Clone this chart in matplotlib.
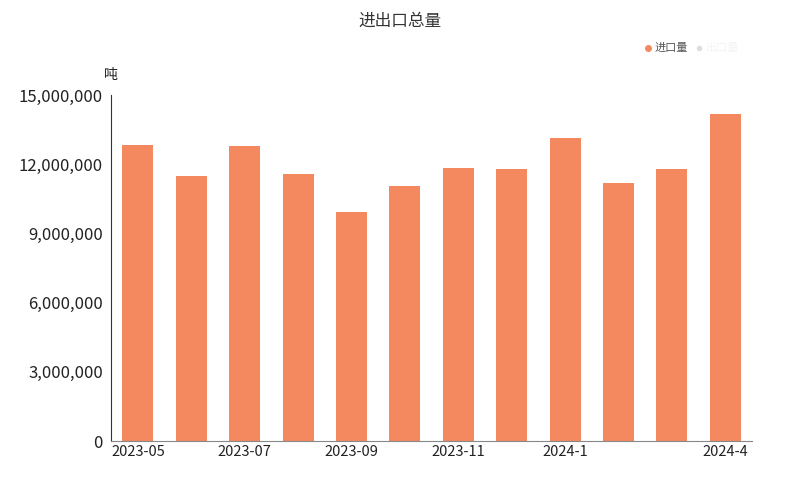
import matplotlib
matplotlib.use("Agg")
import matplotlib.pyplot as plt
from matplotlib.ticker import FuncFormatter

plt.rcParams['font.family'] = ['Noto Sans CJK SC', 'DejaVu Sans']

categories = ["2023-05", "2023-06", "2023-07", "2023-08", "2023-09", "2023-10",
              "2023-11", "2023-12", "2024-1", "2024-2", "2024-3", "2024-4"]
imports = [12830000, 11490000, 12790000, 11570000, 9930000, 11050000,
           11830000, 11790000, 13130000, 11180000, 11790000, 14170000]
tick_labels = {0: "2023-05", 2: "2023-07", 4: "2023-09", 6: "2023-11", 8: "2024-1", 11: "2024-4"}

fig = plt.figure(figsize=(8, 4.79), dpi=100)
ax = fig.add_axes([0.139, 0.0793, 0.801, 0.7224])

x = list(range(len(categories)))
ax.bar(x, imports, width=0.58, color="#F4895F")
ax.set_xlim(-0.5, len(categories) - 0.5)
ax.set_ylim(0, 15000000)
ax.set_yticks([0, 3000000, 6000000, 9000000, 12000000, 15000000])
ax.yaxis.set_major_formatter(FuncFormatter(lambda v, p: f"{int(v):,}"))
ax.set_xticks(list(tick_labels.keys()))
ax.set_xticklabels(list(tick_labels.values()))
ax.tick_params(axis='y', length=0, labelsize=12, pad=6, labelcolor="#222222")
ax.tick_params(axis='x', length=0, labelsize=10.5, pad=3, labelcolor="#222222")

for s in ["top", "right"]:
    ax.spines[s].set_visible(False)
ax.spines["left"].set_color("#333333")
ax.spines["bottom"].set_color("#888888")

fig.text(0.5, 0.955, "进出口总量", ha="center", va="center", fontsize=12, color="#333333")
fig.text(0.138, 0.843, "吨", ha="center", va="center", fontsize=10, color="#222222")

# legend
fig.lines.append(plt.Line2D([0.81], [0.899], marker="o", markersize=4, color="#F4895F",
                            transform=fig.transFigure, linestyle="none"))
fig.text(0.818, 0.899, "进口量", ha="left", va="center", fontsize=8, color="#555555")
fig.lines.append(plt.Line2D([0.874], [0.899], marker="o", markersize=3, color="#DDDDDD",
                            transform=fig.transFigure, linestyle="none"))
fig.text(0.882, 0.899, "出口量", ha="left", va="center", fontsize=8, color="#F4F4F4")

fig.savefig("out.png", dpi=100, facecolor="white")
